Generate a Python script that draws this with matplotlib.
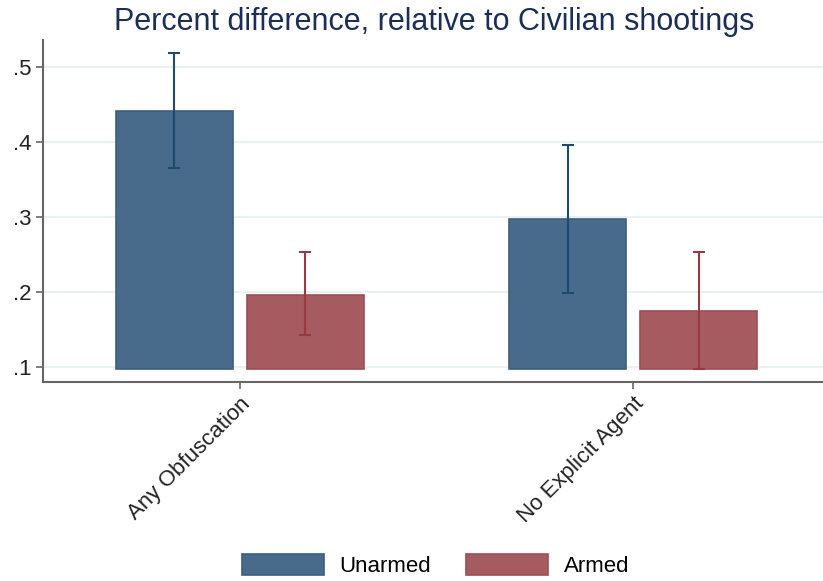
import matplotlib
matplotlib.use("Agg")
import matplotlib.pyplot as plt
import numpy as np

plt.rcParams['font.family'] = ['Liberation Sans', 'DejaVu Sans']

categories = ["Any Obfuscation", "No Explicit Agent"]
series = ["Unarmed", "Armed"]
values = {"Unarmed": [0.441, 0.297], "Armed": [0.196, 0.175]}
ci_low = {"Unarmed": [0.365, 0.199], "Armed": [0.143, 0.097]}
ci_high = {"Unarmed": [0.519, 0.396], "Armed": [0.253, 0.253]}
yticks = [0.1, 0.2, 0.3, 0.4, 0.5]
yticklabels = [".1", ".2", ".3", ".4", ".5"]
base = 0.097

fill_colors = {"Unarmed": "#486a8b", "Armed": "#a55b5f"}
edge_colors = {"Unarmed": "#3d5f80", "Armed": "#9a4f54"}
err_colors = {"Unarmed": "#1f4a70", "Armed": "#983a42"}

fig = plt.figure(figsize=(8.23, 5.81), dpi=100)
ax = fig.add_axes([0.0522, 0.3425, 0.9478, 0.5887])

x = np.arange(len(categories))
width = 0.298
offsets = {"Unarmed": -0.1667, "Armed": 0.1667}

for s in series:
    v = np.array(values[s])
    lo = np.array(ci_low[s])
    hi = np.array(ci_high[s])
    ax.bar(x + offsets[s], v - base, width, bottom=base, color=fill_colors[s],
           edgecolor=edge_colors[s], linewidth=1.2, label=s, zorder=2)
    ax.errorbar(x + offsets[s], (lo + hi) / 2, yerr=(hi - lo) / 2, fmt='none',
                ecolor=err_colors[s], elinewidth=1.5, capsize=4, capthick=1.5, zorder=3)

ax.set_xlim(-0.501, 1.483)
ax.set_ylim(0.08, 0.536)
ax.set_yticks(yticks)
ax.set_yticklabels(yticklabels, fontsize=16, color="#222222")
ax.set_xticks(x)
ax.set_xticklabels(categories, rotation=45, ha='right', rotation_mode='anchor',
                   fontsize=16, color="#222222")
ax.yaxis.grid(True, color="#eaf1f3", linewidth=1.5, zorder=0)
ax.set_axisbelow(True)
for sp in ["top", "right"]:
    ax.spines[sp].set_visible(False)
for sp in ["left", "bottom"]:
    ax.spines[sp].set_color("#666666")
    ax.spines[sp].set_linewidth(1.5)
ax.tick_params(axis='both', direction='out', length=5, width=1.2, color="#666666", pad=3)

fig.suptitle("Percent difference, relative to Civilian shootings", x=0.527, y=0.988,
             fontsize=22, color="#1a2e58")

handles, labels = ax.get_legend_handles_labels()
fig.legend(handles, labels, loc='center', bbox_to_anchor=(0.529, 0.027), ncol=2,
           frameon=False, fontsize=16, handlelength=3.7, handleheight=1.08,
           columnspacing=1.6, handletextpad=0.68)

fig.savefig("out.png", dpi=100, facecolor="white")
